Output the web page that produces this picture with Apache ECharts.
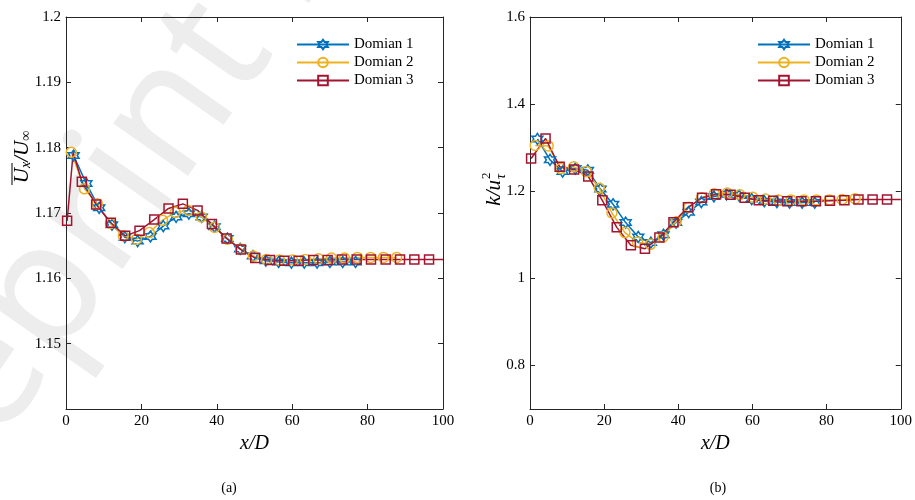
<!DOCTYPE html>
<html>
<head>
<meta charset="utf-8">
<script src="https://cdn.jsdelivr.net/npm/echarts@6/dist/echarts.min.js"></script>
<style>
  html, body { margin: 0; padding: 0; background: #fff; }
  #chart { width: 915px; height: 500px; }
</style>
</head>
<body>
<div id="chart"></div>
<script>
// Domain 1 (blue hexagrams)
const blueX = [2.0, 5.4, 8.8, 12.2, 15.6, 19.0, 22.4, 25.8, 29.2, 32.6, 36.0, 39.4, 42.8, 46.2, 49.6, 53.0, 56.4, 59.8, 63.2, 66.6, 70.0, 73.4, 76.8];
const blueUx = [1.1788, 1.1745, 1.1708, 1.1682, 1.1663, 1.1657, 1.1664, 1.1680, 1.1694, 1.1699, 1.1694, 1.1679, 1.1661, 1.1645, 1.1634, 1.1627, 1.1625, 1.1624, 1.1624, 1.1624, 1.1625, 1.1625, 1.1625];
const blueK = [1.320, 1.272, 1.245, 1.252, 1.248, 1.205, 1.170, 1.128, 1.095, 1.082, 1.100, 1.128, 1.152, 1.175, 1.188, 1.193, 1.190, 1.182, 1.177, 1.175, 1.174, 1.174, 1.174];

// Domain 2 (yellow circles)
const yellowX = [1.4, 4.9, 8.3, 11.8, 15.2, 18.7, 22.1, 25.6, 29.0, 32.5, 35.9, 39.4, 42.8, 46.3, 49.7, 53.2, 56.6, 60.1, 63.5, 67.0, 70.4, 73.9, 77.3, 80.8, 84.2, 87.7];
const yellowUx = [1.1793, 1.1737, 1.1714, 1.1684, 1.1665, 1.1660, 1.1670, 1.1689, 1.1701, 1.1704, 1.1694, 1.1678, 1.1660, 1.1645, 1.1634, 1.1629, 1.1628, 1.1628, 1.1629, 1.1630, 1.1631, 1.1631, 1.1632, 1.1632, 1.1632, 1.1632];
const yellowK = [1.305, 1.304, 1.252, 1.256, 1.245, 1.207, 1.150, 1.105, 1.083, 1.078, 1.095, 1.130, 1.163, 1.185, 1.194, 1.196, 1.192, 1.186, 1.182, 1.180, 1.180, 1.180, 1.180, 1.180, 1.181, 1.183];

// Domain 3 (red squares)
const redX = [0.3, 4.2, 8.0, 11.9, 15.7, 19.5, 23.4, 27.2, 31.0, 34.9, 38.7, 42.6, 46.4, 50.2, 54.1, 57.9, 61.7, 65.6, 69.4, 73.2, 77.1, 80.9, 84.8, 88.6, 92.4, 96.3];
const redUx = [1.1688, 1.1748, 1.1713, 1.1685, 1.1665, 1.1673, 1.1690, 1.1707, 1.1714, 1.1704, 1.1683, 1.1661, 1.1644, 1.1631, 1.1628, 1.1627, 1.1627, 1.1628, 1.1628, 1.1629, 1.1629, 1.1629, 1.1629, 1.1629, 1.1629, 1.1629];
const redK = [1.275, 1.321, 1.256, 1.250, 1.234, 1.179, 1.117, 1.076, 1.068, 1.094, 1.129, 1.163, 1.185, 1.193, 1.192, 1.185, 1.179, 1.178, 1.177, 1.177, 1.177, 1.178, 1.179, 1.181, 1.181, 1.181];
// points on the red line that carry no marker
const redUxLineOnly = [[1.9, 1.1793], [100, 1.1629]];
const redKLineOnly = [[100, 1.181]];

const names = ['Domian 1', 'Domian 2', 'Domian 3'];
const uxTicks = [1.15, 1.16, 1.17, 1.18, 1.19, 1.2];
const kTicks = [0.8, 1, 1.2, 1.4, 1.6];

const font = 'Liberation Serif';
const axisColor = '#262626';
const hexagram = 'path://M50 0 L64.4 25 L93.3 25 L78.9 50 L93.3 75 L64.4 75 L50 100 L35.6 75 L6.7 75 L21.1 50 L6.7 25 L35.6 25 Z';

function mkData(xs, ys, lineOnly) {
  const pts = xs.map((x, i) => ({ value: [x, ys[i]] }));
  (lineOnly || []).forEach(p => pts.push({ value: p, symbol: 'none' }));
  return pts.sort((a, b) => a.value[0] - b.value[0]);
}

function xAx(grid, top) {
  return {
    type: 'value', gridIndex: grid, position: top ? 'top' : 'bottom',
    min: 0, max: 100, interval: 20,
    axisLine: { show: true, onZero: false, lineStyle: { color: axisColor, width: 1 } },
    axisTick: { show: true, inside: true, length: 5, lineStyle: { color: axisColor } },
    axisLabel: { show: !top, color: '#000', fontFamily: font, fontSize: 15, margin: 5 },
    splitLine: { show: false },
    name: top ? '' : 'x/D', nameLocation: 'middle', nameGap: 24,
    nameTextStyle: { fontFamily: font, fontStyle: 'italic', fontSize: 20, color: '#000' }
  };
}

function yAx(grid, right, min, max, ticks) {
  return {
    type: 'value', gridIndex: grid, position: right ? 'right' : 'left',
    min: min, max: max,
    axisLine: { show: true, onZero: false, lineStyle: { color: axisColor, width: 1 } },
    axisTick: { show: true, inside: true, length: 5, lineStyle: { color: axisColor }, customValues: ticks },
    axisLabel: { show: !right, color: '#000', fontFamily: font, fontSize: 15, margin: 5, customValues: ticks },
    splitLine: { show: false }
  };
}

const styles = [
  { color: '#0072BD', symbol: hexagram, symbolSize: 11 },
  { color: '#EDB120', symbol: 'circle', symbolSize: 10 },
  { color: '#A2142F', symbol: 'rect', symbolSize: 9 }
];

function mkSeries(i, grid, data) {
  const s = styles[i];
  return {
    name: names[i], type: 'line', xAxisIndex: grid * 2, yAxisIndex: grid * 2,
    data: data, color: s.color, symbol: s.symbol, symbolSize: s.symbolSize,
    showAllSymbol: true,
    lineStyle: { color: s.color, width: 1.5 },
    itemStyle: { color: 'rgba(255,255,255,0)', borderColor: s.color, borderWidth: 1.5 },
    emphasis: { disabled: true }
  };
}

const chart = echarts.init(document.getElementById('chart'));

const option = {
  animation: false,
  backgroundColor: '#fff',
  grid: [
    { left: 66, right: 472, top: 17, bottom: 91 },
    { left: 530, right: 10, top: 17, bottom: 91 }
  ],
  xAxis: [xAx(0, false), xAx(0, true), xAx(1, false), xAx(1, true)],
  yAxis: [
    yAx(0, false, 1.14, 1.2, uxTicks), yAx(0, true, 1.14, 1.2, uxTicks),
    yAx(1, false, 0.7, 1.6, kTicks), yAx(1, true, 0.7, 1.6, kTicks)
  ],
  legend: [
    { left: 296, top: 37 }, { left: 757, top: 37 }
  ].map(p => ({
    ...p, orient: 'vertical', data: names, itemWidth: 52, itemHeight: 12, itemGap: 3, padding: 0,
    textStyle: { fontFamily: font, fontSize: 15, color: '#000' }, selectedMode: false
  })),
  series: [
    mkSeries(0, 0, mkData(blueX, blueUx)),
    mkSeries(1, 0, mkData(yellowX, yellowUx)),
    mkSeries(2, 0, mkData(redX, redUx, redUxLineOnly)),
    mkSeries(0, 1, mkData(blueX, blueK)),
    mkSeries(1, 1, mkData(yellowX, yellowK)),
    mkSeries(2, 1, mkData(redX, redK, redKLineOnly))
  ],
  graphic: [
    // watermark
    {
      type: 'text', x: -68, y: 605, rotation: 0.96, z: -10, silent: true,
      style: { text: 'Preprint not peer reviewed', fontFamily: 'Noto Sans', fontSize: 170, fill: '#ededed', align: 'left', verticalAlign: 'bottom' }
    },
    // left y title  (overline U_x / U_inf)
    {
      type: 'group', x: 22, y: 157, rotation: Math.PI / 2,
      children: [
        {
          type: 'text', x: 0, y: 0,
          style: {
            text: '{u|U}{s|x}{u|/U}{s|∞}', align: 'center', verticalAlign: 'middle',
            rich: {
              u: { fontFamily: font, fontStyle: 'italic', fontSize: 21, lineHeight: 26 },
              s: { fontFamily: font, fontStyle: 'italic', fontSize: 14, lineHeight: 26, padding: [9, 0, 0, 0] }
            }
          }
        },
        { type: 'line', shape: { x1: -28, y1: -10, x2: -6, y2: -10 }, style: { stroke: '#000', lineWidth: 1 } }
      ]
    },
    // right y title  k / u_tau^2
    {
      type: 'group', x: 494, y: 180, rotation: Math.PI / 2,
      children: [
        { type: 'text', x: 0, y: 0, style: { text: 'k/u', align: 'right', verticalAlign: 'middle', fontFamily: font, fontStyle: 'italic', fontSize: 21 } },
        { type: 'text', x: 1, y: -7, style: { text: '2', align: 'left', verticalAlign: 'middle', fontFamily: font, fontSize: 13 } },
        { type: 'text', x: 1, y: 7, style: { text: 'τ', align: 'left', verticalAlign: 'middle', fontFamily: font, fontStyle: 'italic', fontSize: 14 } }
      ]
    },
    { type: 'text', x: 229, y: 488, style: { text: '(a)', align: 'center', verticalAlign: 'middle', fontFamily: font, fontSize: 14, fill: '#000' } },
    { type: 'text', x: 718, y: 488, style: { text: '(b)', align: 'center', verticalAlign: 'middle', fontFamily: font, fontSize: 14, fill: '#000' } }
  ]
};

chart.setOption(option);
</script>
</body>
</html>
